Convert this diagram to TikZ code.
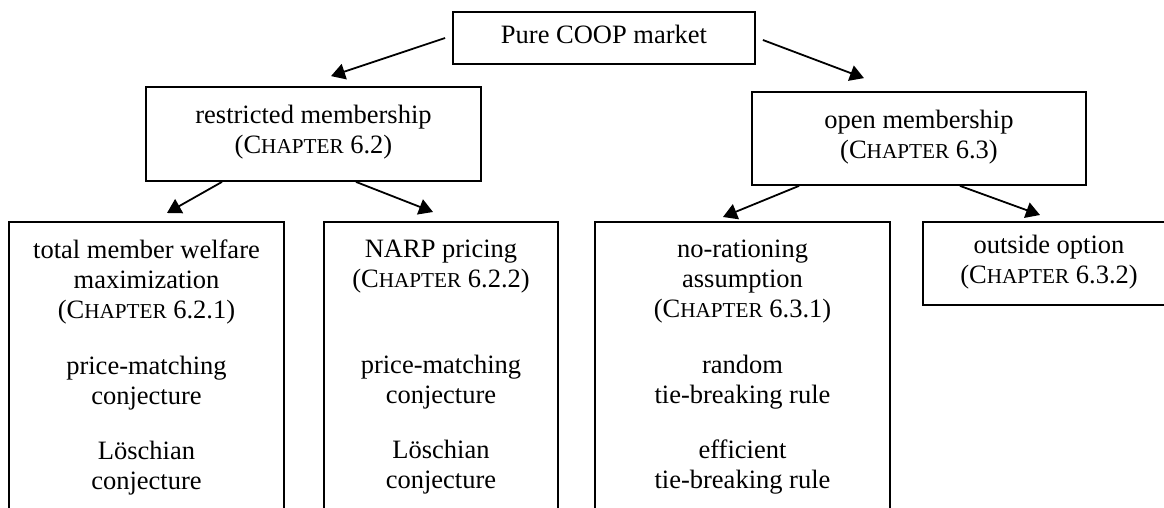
\documentclass[tikz,border=0pt]{standalone}
\usepackage{fontspec}
\setmainfont{Liberation Serif}
\usetikzlibrary{arrows.meta,positioning}
\newcommand{\chapref}[1]{(C{\fontsize{10.6}{15}\selectfont HAPTER} #1)}
\tikzset{
  flow/.style={-{Triangle[length=7pt,width=8pt]},line width=0.9pt,draw=black},
  box/.style={draw=black,line width=0.9pt,align=center,inner xsep=4pt,
              execute at begin node=\strut,execute at end node=\strut},
  topbox/.style={box,minimum height=47pt},
  leafbox/.style={box,anchor=north,inner ysep=9pt}
}
\begin{document}
\begin{tikzpicture}[x=0.5pt,y=-0.5pt,font=\fontsize{13.25}{15}\selectfont]
  \useasboundingbox (0,0) rectangle (1164,508);
  \node[box,minimum width=151pt,minimum height=26pt] (pure) at (604,38) {Pure COOP market};
  \node[topbox,minimum width=167.5pt] (restr) at (313.5,134) {restricted membership\\\chapref{6.2}};
  \node[topbox,minimum width=167pt,minimum height=46.5pt] (open) at (919,138.5) {open membership\\\chapref{6.3}};
  \node[leafbox,minimum width=137.5pt] (welfare) at (146.5,221)
    {total member welfare\\maximization\\\chapref{6.2.1}\\[13pt]price-matching\\conjecture\\[12.5pt]Löschian\\conjecture};
  \node[leafbox,minimum width=117pt] (narp) at (441,221)
    {NARP pricing\\\chapref{6.2.2}\\\mbox{}\\[13pt]price-matching\\conjecture\\[12.5pt]Löschian\\conjecture};
  \node[leafbox,minimum width=147.5pt] (norat) at (742.5,221)
    {no-rationing\\assumption\\\chapref{6.3.1}\\[13pt]random\\tie-breaking rule\\[12.5pt]efficient\\tie-breaking rule};
  \node[leafbox,minimum width=126pt,inner ysep=6.5pt] (outside) at (1049,221)
    {outside option\\\chapref{6.3.2}};
  \draw[flow] ([xshift=-3.5pt]pure.west) -- ([xshift=8.75pt,yshift=5pt]restr.north);
  \draw[flow] ([xshift=3.5pt,yshift=-1pt]pure.east) -- ([xshift=-27.5pt,yshift=6.5pt]open.north);
  \draw[flow] ([xshift=-45.75pt]restr.south) -- ([xshift=10.25pt,yshift=4pt]welfare.north);
  \draw[flow] ([xshift=21.25pt]restr.south) -- ([xshift=-4pt,yshift=4.5pt]narp.north);
  \draw[flow] ([xshift=-60pt]open.south) -- ([xshift=-9.75pt,yshift=2pt]norat.north);
  \draw[flow] ([xshift=20.5pt]open.south) -- ([xshift=-4.5pt,yshift=3pt]outside.north);
\end{tikzpicture}
\end{document}
